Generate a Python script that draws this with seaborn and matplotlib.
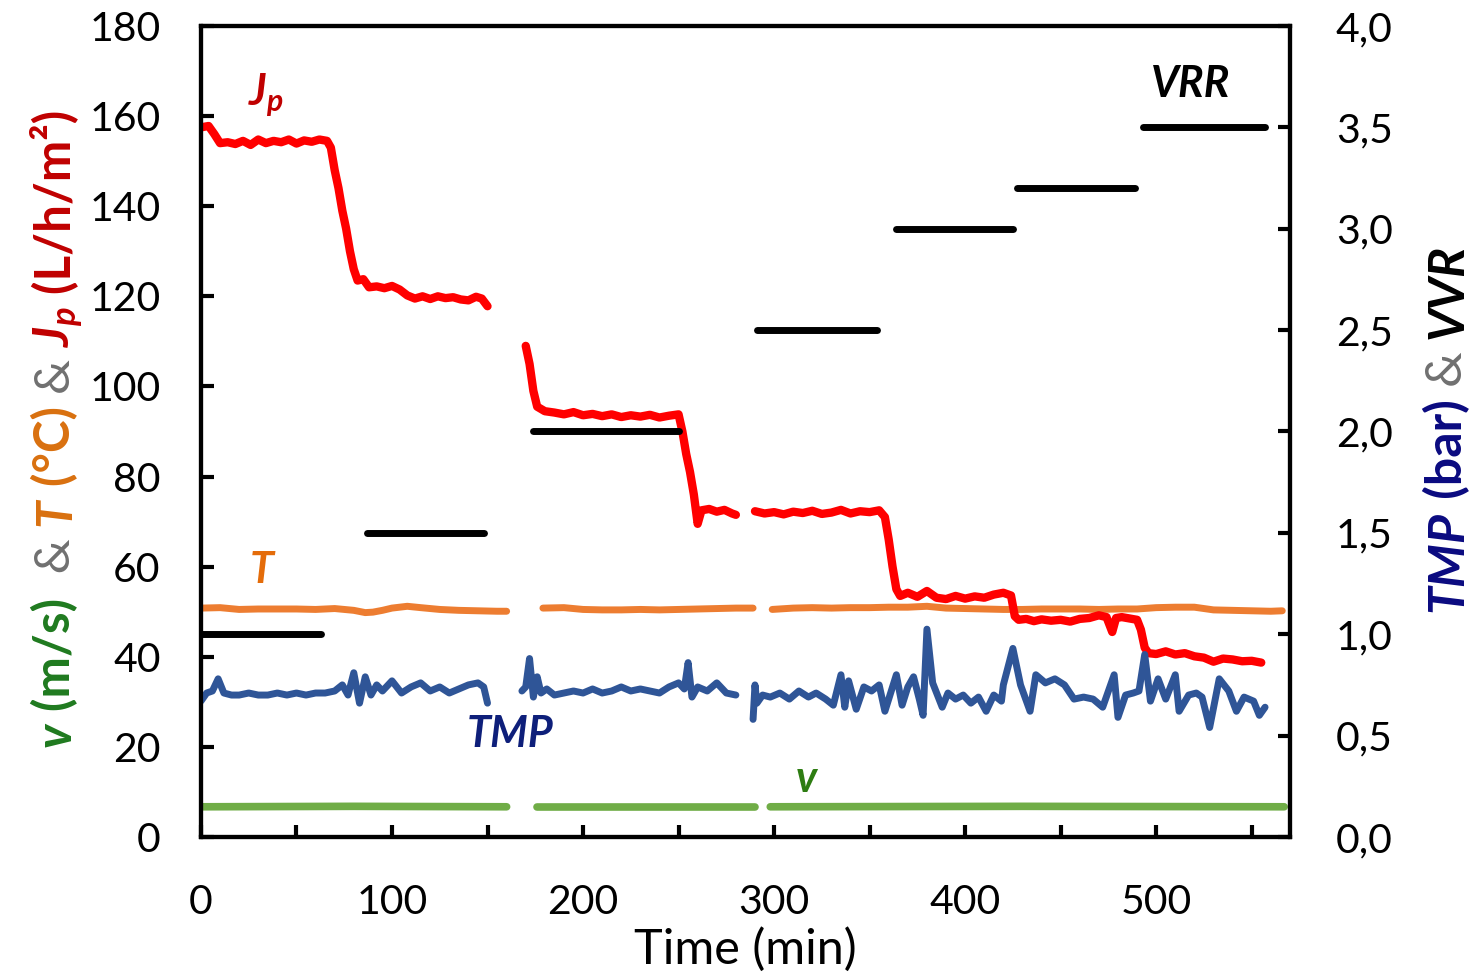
import matplotlib.pyplot as plt
import numpy as np
import pandas as pd
import seaborn as sns
from matplotlib.ticker import FuncFormatter

# Jp (L/h/m2), three runs separated by gaps
jp1_t = [0, 4, 7, 10, 14, 18, 22, 26, 30, 34, 38, 42, 46, 50, 54, 58, 62, 66, 68, 70,
         72, 74, 76, 78, 80, 82, 85, 88, 92, 96, 100, 104, 108, 112, 116, 120, 124, 128, 132, 136,
         140, 144, 147, 150]
jp1 = [157.5, 157.8, 156, 154, 154.2, 153.8, 154.5, 153.6, 154.8, 154, 154.5, 154.2, 154.8, 153.9, 154.6, 154.3, 154.8, 154.5, 153, 148,
       144, 139, 135, 130, 126, 123.5, 123.8, 122, 122.2, 121.8, 122.3, 121.5, 120.2, 119.5, 120, 119.4, 120, 119.6, 119.8, 119.3,
       119.1, 119.9, 119.5, 117.8]
jp2_t = [170, 172, 174, 176, 180, 185, 190, 195, 200, 205, 210, 215, 220, 225, 230, 235, 240, 245, 250, 252,
         254, 256, 258, 260, 262, 266, 270, 274, 278, 280]
jp2 = [109, 105, 99, 95.5, 94.5, 94.2, 93.8, 94.3, 93.6, 93.9, 93.4, 93.8, 93.2, 93.6, 93.3, 93.7, 93.1, 93.5, 93.8, 90,
       85, 81, 76, 69.5, 72.5, 72.8, 72.2, 72.6, 71.8, 71.5]
jp3_t = [290, 295, 300, 305, 310, 315, 320, 325, 330, 335, 340, 345, 350, 355, 358, 360, 362, 364, 366, 370,
         375, 380, 385, 390, 395, 400, 405, 410, 415, 420, 424, 426, 428, 432, 436, 440, 445, 450, 455, 460,
         465, 470, 474, 477, 479, 482, 486, 490, 492, 494, 496, 500, 505, 510, 515, 520, 525, 530, 535, 540,
         545, 550, 555]
jp3 = [72.3, 71.8, 72.1, 71.6, 72.2, 71.9, 72.4, 71.7, 72, 72.6, 71.8, 72.3, 72.1, 72.5, 71, 66, 60, 55, 53.5, 54.2,
       53.3, 54.6, 53.1, 52.8, 53.5, 52.9, 53.4, 53.1, 53.8, 54.2, 53.6, 49, 48.2, 48.4, 47.9, 48.3, 48, 48.2, 47.8, 48.4,
       48.6, 49.2, 48.8, 45.5, 48.6, 48.8, 48.5, 48.2, 46, 42, 40.8, 40.6, 41.2, 40.5, 40.8, 40.1, 39.8, 38.9, 39.6, 39.4,
       39, 39.1, 38.7]

# T (degC)
temp1_t = [0, 10, 20, 30, 40, 50, 60, 70, 80, 86, 90, 95, 100, 108, 115, 125, 135, 145, 155, 160]
temp1 = [50.8, 50.9, 50.5, 50.6, 50.6, 50.6, 50.5, 50.7, 50.3, 49.8, 49.9, 50.3, 50.8, 51.2, 50.9, 50.5, 50.3, 50.2, 50.1, 50.1]
temp2_t = [179, 190, 200, 210, 220, 230, 240, 250, 260, 270, 280, 289]
temp2 = [50.8, 50.9, 50.5, 50.4, 50.4, 50.5, 50.4, 50.5, 50.6, 50.7, 50.8, 50.8]
temp3_t = [299, 310, 320, 330, 340, 350, 360, 370, 380, 390, 400, 410, 420, 430, 440, 450, 460, 470, 480, 490,
           500, 510, 520, 530, 540, 550, 560, 566]
temp3 = [50.5, 50.8, 50.9, 50.8, 50.9, 50.9, 51.0, 51.0, 51.2, 50.8, 50.7, 50.6, 50.5, 50.5, 50.6, 50.6, 50.6, 50.5, 50.6, 50.6,
         50.9, 51.0, 51.0, 50.4, 50.3, 50.2, 50.1, 50.2]

# v (m/s)
v1_t, v1 = [0, 80, 160], [6.7, 6.8, 6.7]
v2_t, v2 = [176, 230, 290], [6.7, 6.7, 6.7]
v3_t, v3 = [298, 430, 567], [6.7, 6.8, 6.7]

# TMP (bar), right axis
tmp1_t = [0, 3, 6, 9, 12, 16, 20, 25, 30, 35, 40, 45, 50, 55, 60, 65, 70, 74, 77, 80,
          83, 86, 89, 92, 95, 100, 105, 110, 115, 120, 125, 130, 135, 140, 145, 148, 150]
tmp1 = [0.67, 0.71, 0.72, 0.78, 0.71, 0.70, 0.70, 0.71, 0.70, 0.70, 0.71, 0.70, 0.71, 0.70, 0.71, 0.71, 0.72, 0.75, 0.70, 0.81,
        0.66, 0.79, 0.70, 0.75, 0.72, 0.77, 0.71, 0.74, 0.76, 0.72, 0.74, 0.71, 0.73, 0.75, 0.76, 0.74, 0.66]
tmp2_t = [168, 170, 172, 174, 176, 178, 181, 185, 190, 195, 200, 205, 210, 215, 220, 225, 230, 235, 240, 245,
          250, 253, 255, 257, 260, 265, 270, 275, 280]
tmp2 = [0.72, 0.74, 0.88, 0.69, 0.79, 0.71, 0.73, 0.70, 0.71, 0.72, 0.71, 0.73, 0.71, 0.72, 0.74, 0.72, 0.73, 0.72, 0.71, 0.74,
        0.76, 0.73, 0.86, 0.69, 0.74, 0.72, 0.76, 0.71, 0.70]
tmp3_t = [289, 290, 291, 294, 298, 303, 308, 313, 318, 322, 327, 331, 335, 337, 339, 343, 347, 351, 355, 358,
          364, 367, 370, 373, 376, 378, 380, 383, 388, 391, 395, 399, 403, 407, 411, 415, 419, 420, 425, 429,
          434, 437, 442, 447, 452, 457, 462, 467, 472, 478, 480, 484, 488, 491, 494, 497, 501, 505, 510, 512,
          517, 521, 524, 528, 533, 538, 542, 546, 551, 554, 557]
tmp3 = [0.58, 0.75, 0.66, 0.70, 0.69, 0.71, 0.68, 0.72, 0.69, 0.71, 0.68, 0.65, 0.80, 0.64, 0.77, 0.63, 0.74, 0.72, 0.75, 0.62,
        0.80, 0.65, 0.74, 0.79, 0.68, 0.60, 1.025, 0.76, 0.64, 0.71, 0.68, 0.70, 0.66, 0.69, 0.62, 0.70, 0.67, 0.75, 0.93, 0.75,
        0.62, 0.80, 0.76, 0.78, 0.75, 0.68, 0.69, 0.68, 0.64, 0.80, 0.59, 0.70, 0.71, 0.72, 0.90, 0.67, 0.78, 0.68, 0.80, 0.62,
        0.70, 0.71, 0.69, 0.54, 0.78, 0.72, 0.62, 0.69, 0.67, 0.60, 0.64]

# VRR steps, right axis
vrr_level = [1.0, 1.5, 2.0, 2.5, 3.0, 3.2, 3.5]
vrr_start = [0, 87, 174, 291, 364, 427, 493]
vrr_end = [63, 148, 250, 354, 425, 489, 557]


def segs(*pairs):
    parts = [pd.DataFrame({"time": t, "value": y, "seg": i}) for i, (t, y) in enumerate(pairs)]
    return pd.concat(parts, ignore_index=True)


df_jp = segs((jp1_t, jp1), (jp2_t, jp2), (jp3_t, jp3))
df_temp = segs((temp1_t, temp1), (temp2_t, temp2), (temp3_t, temp3))
df_v = segs((v1_t, v1), (v2_t, v2), (v3_t, v3))
df_tmp = segs((tmp1_t, tmp1), (tmp2_t, tmp2), (tmp3_t, tmp3))

sns.set_theme(style="white")
plt.rcParams["font.family"] = ["Lato", "DejaVu Sans"]
plt.rcParams["mathtext.fontset"] = "custom"
plt.rcParams["mathtext.it"] = "Lato:italic:bold"
plt.rcParams["mathtext.rm"] = "Lato:bold"
plt.rcParams["mathtext.bf"] = "Lato:bold"

fig = plt.figure(figsize=(14.83, 9.73), dpi=100)
ax = fig.add_axes([0.1355, 0.1398, 0.7343, 0.8335])
ax2 = ax.twinx()

line_kw = dict(units="seg", estimator=None, sort=False, legend=False,
               solid_capstyle="round", solid_joinstyle="round")
sns.lineplot(data=df_v, x="time", y="value", color="#70AD47", linewidth=5.5, ax=ax, **line_kw)
sns.lineplot(data=df_temp, x="time", y="value", color="#ED7D31", linewidth=5, ax=ax, **line_kw)
sns.lineplot(data=df_jp, x="time", y="value", color="#FF0000", linewidth=6, ax=ax, **line_kw)
sns.lineplot(data=df_tmp, x="time", y="value", color="#2F5597", linewidth=5, ax=ax2, **line_kw)
ax2.hlines(vrr_level, vrr_start, vrr_end, color="black", linewidth=5, capstyle="round")

ax.set_xlim(0, 570)
ax.set_ylim(0, 180)
ax2.set_ylim(0, 4)
ax.set_xticks(range(0, 501, 100))
ax.set_xticks(range(50, 551, 100), minor=True)
ax.set_yticks(range(0, 181, 20))
ax2.set_yticks(np.arange(0, 4.01, 0.5))
ax2.yaxis.set_major_formatter(FuncFormatter(lambda y, _: f"{y:.1f}".replace(".", ",")))

for a in (ax, ax2):
    a.tick_params(axis="both", which="both", direction="in", length=9, width=3,
                  color="black", labelsize=29.5, labelcolor="black", pad=30)
    for s in a.spines.values():
        s.set_linewidth(3)
        s.set_color("black")
    a.set_ylabel("")
ax.tick_params(axis="x", which="both", bottom=True, top=False, pad=34)
ax.tick_params(axis="y", left=True, right=False, pad=29)
ax2.tick_params(axis="y", right=True, left=False, pad=33)
ax.set_xlabel("Time (min)", fontsize=35, color="black", labelpad=4)

# labels next to the curves
ax.text(34, 162.5, r"$J_p$", color="#C00000", fontsize=31, ha="center", va="baseline")
ax.text(32, 56.4, "T", color="#E46C0A", fontsize=31, fontweight="bold", fontstyle="italic", ha="center", va="baseline")
ax.text(162, 20, "TMP", color="#0E1F7A", fontsize=31, fontweight="bold", fontstyle="italic", ha="center", va="baseline")
ax.text(317, 10, "v", color="#2E7D12", fontsize=31, fontweight="bold", fontstyle="italic", ha="center", va="baseline")
ax.text(518, 164.2, "VRR", color="black", fontsize=31, fontweight="bold", fontstyle="italic", ha="center", va="baseline")


def vertical_label(x, y, parts, size):
    prev = None
    for txt, color, weight, style in parts:
        kw = dict(rotation=90, rotation_mode="anchor", ha="left", va="baseline", color=color,
                  fontsize=size, fontweight=weight, fontstyle=style)
        if prev is None:
            prev = fig.text(x, y, txt, **kw)
        else:
            prev = ax.annotate(txt, xy=(x, 1), xycoords=("figure fraction", prev),
                               annotation_clip=False, **kw)


green, orange, red, gray, navy = "#1F7A1F", "#D9700F", "#C00000", "#707070", "#0A0A80"
vertical_label(0.0475, 0.232, [
    ("v", green, "bold", "italic"),
    (" (m/s) ", green, "bold", "normal"),
    (" & ", gray, "normal", "normal"),
    ("T", orange, "bold", "italic"),
    (" (°C) ", orange, "bold", "normal"),
    ("& ", gray, "normal", "normal"),
    (r"$J_p$", red, "bold", "normal"),
    (" (L/h/m²)", red, "bold", "normal"),
], 35.5)
vertical_label(0.986, 0.371, [
    ("TMP", navy, "bold", "italic"),
    (" (bar) ", navy, "bold", "normal"),
    ("& ", gray, "normal", "normal"),
    ("VVR", "black", "bold", "italic"),
], 36)

fig.savefig("out.png", dpi=100)
